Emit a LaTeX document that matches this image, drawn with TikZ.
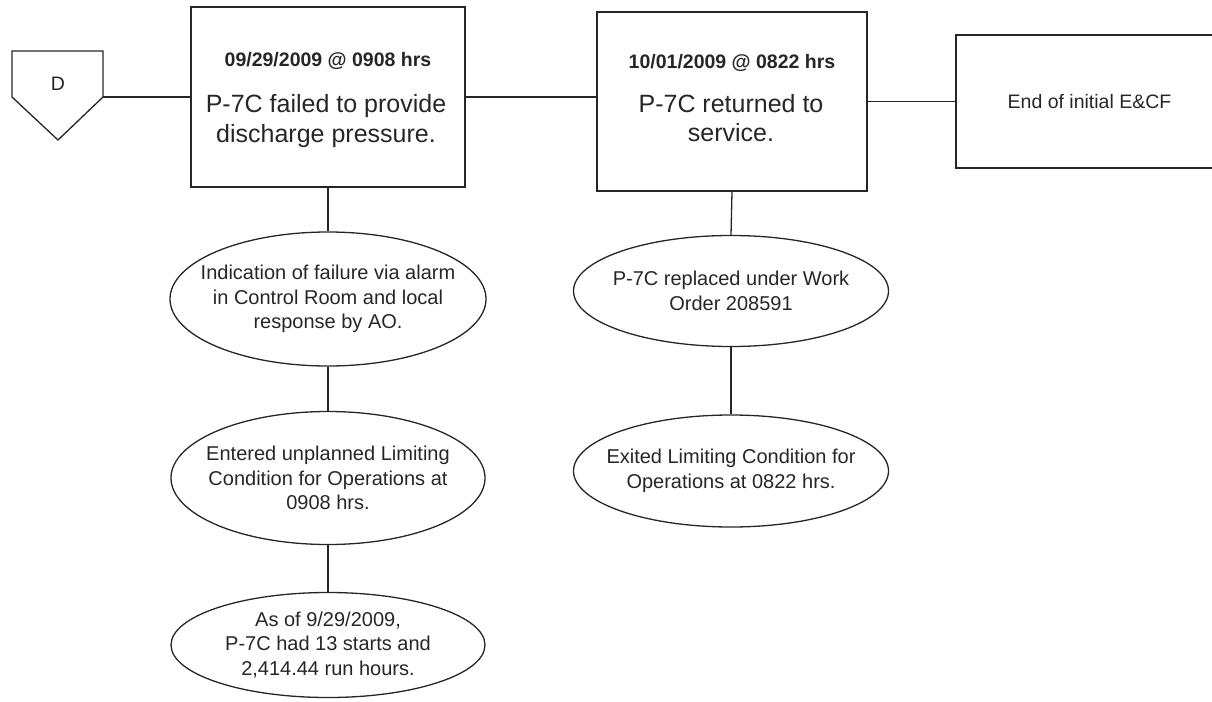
\documentclass[tikz,border=0pt]{standalone}
\usepackage{fontspec}
\setmainfont{Liberation Sans}
\usetikzlibrary{shapes.geometric}
\begin{document}
\begin{tikzpicture}[x=1pt,y=-1pt,
  line width=1.3pt,
  every node/.style={text=black!85},
  eventbox/.style={draw=black!85, rectangle, inner sep=0pt},
  titletext/.style={font=\fontsize{19.5}{23}\selectfont\bfseries},
  bodytext/.style={font=\fontsize{25}{29.5}\selectfont, align=center},
  endtext/.style={font=\fontsize{19.5}{23}\selectfont},
  cond/.style={draw=black!85, ellipse, inner sep=0pt},
  condtext/.style={align=center, inner sep=0pt, font=\fontsize{20}{24.5}\selectfont},
  link/.style={draw=black!85, line width=1.3pt}]
\useasboundingbox (0,0) rectangle (1212,701);

% off-page connector D
\coordinate (dTL) at (12,51);
\coordinate (dTR) at (103,51);
\coordinate (dR)  at (103,97);
\coordinate (dB)  at (58,140);
\coordinate (dL)  at (12,97);
\draw[draw=black!85, line join=miter] (dTL) -- (dTR) -- (dR) -- (dB) -- (dL) -- cycle;
\node[endtext] (dlabel) at (58,84) {D};

% event boxes
\node[eventbox, minimum width=274pt, minimum height=180pt] (box1) at (328,97) {};
\node[titletext] (t1) at (328,61) {09/29/2009 @ 0908 hrs};
\node[bodytext] (b1) at (326,121) {P-7C failed to provide\\discharge pressure.};

\node[eventbox, minimum width=270pt, minimum height=179pt] (box2) at (732,101.5) {};
\node[titletext] (t2) at (732,63) {10/01/2009 @ 0822 hrs};
\node[bodytext] (b2) at (731,118) {P-7C returned to\\service.};

\begin{scope}
  \clip (0,0) rectangle (1212,701);
  \node[eventbox, minimum width=267pt, minimum height=133pt] (box3) at (1089.5,101.5) {};
\end{scope}
\node[endtext] (t3) at (1089.5,102) {End of initial E\&CF};

% conditions: outlines and their texts
\node[cond, minimum width=316pt, minimum height=134pt] (e1) at (328,299) {};
\node[condtext] (e1t) at (e1.center)
  {Indication of failure via alarm\\in Control Room and local\\response by AO.};
\node[cond, minimum width=314pt, minimum height=133pt] (e2) at (328,478) {};
\node[condtext] (e2t) at (e2.center)
  {Entered unplanned Limiting\\Condition for Operations at\\0908 hrs.};
\node[cond, minimum width=314pt, minimum height=105pt] (e3) at (328,645) {};
\node[condtext] (e3t) at (e3.center)
  {As of 9/29/2009,\\P-7C had 13 starts and\\2,414.44 run hours.};
\node[cond, minimum width=315pt, minimum height=111pt] (e4) at (731,291) {};
\node[condtext] (e4t) at (e4.center)
  {P-7C replaced under Work\\Order 208591};
\node[cond, minimum width=315pt, minimum height=112pt] (e5) at (731,471) {};
\node[condtext] (e5t) at (e5.center)
  {Exited Limiting Condition for\\Operations at 0822 hrs.};

% connectors
\draw[link] (dR) -- (box1.west);
\draw[link] (box1.east) -- (box1.east -| box2.west);
\draw[link] (box2.east) -- (box3.west);
\draw[link] (box1.south) -- (e1.north);
\draw[link] (e1.south) -- (e2.north);
\draw[link] (e2.south) -- (e3.north);
\draw[link] (box2.south) -- (e4.north);
\draw[link] (e4.south) -- (e5.north);
\end{tikzpicture}
\end{document}
